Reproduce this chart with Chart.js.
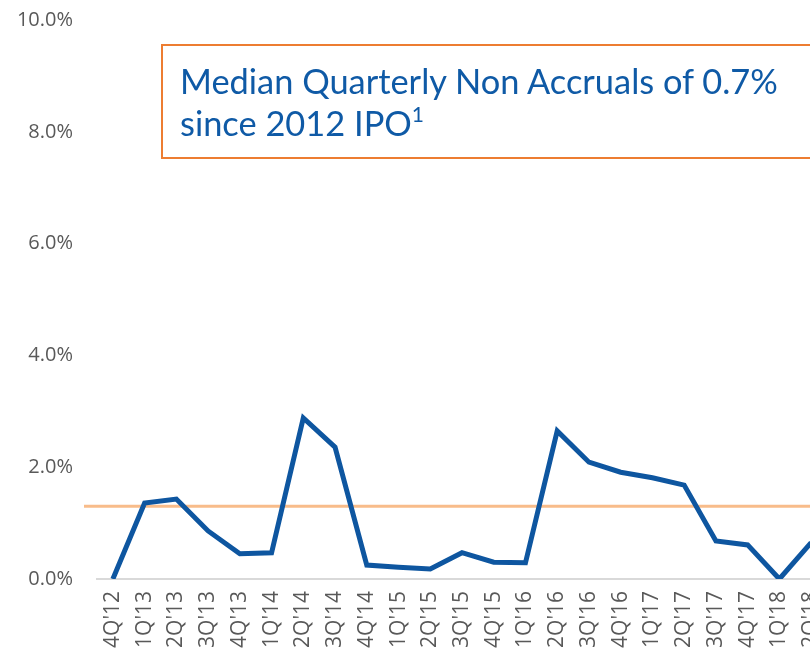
<!DOCTYPE html>
<html>
<head>
<meta charset="utf-8">
<script src="https://cdn.jsdelivr.net/npm/chart.js@4"></script>
<style>
  html, body { margin: 0; padding: 0; background: #fff; }
  .wrap { position: relative; width: 810px; height: 655px; overflow: hidden; }
  .wrap canvas { position: absolute; left: 0; top: 0; }
  .note {
    position: absolute; left: 161px; top: 44px; width: 700px; height: 115px;
    border: 2px solid #ED7D31; box-sizing: border-box;
    font-family: Lato, "Open Sans", sans-serif; font-size: 34.4px; color: #0F5AA6;
    line-height: 43px;
  }
  .note .l1 { position: absolute; left: 17px; top: 13px; white-space: nowrap; }
  .note .l2 { position: absolute; left: 17px; top: 55px; white-space: nowrap; }
  .note sup { font-size: 21px; vertical-align: 14px; line-height: 0; }
</style>
</head>
<body>
<div class="wrap">
  <canvas id="nonAccrualChart" width="827" height="700"></canvas>
  <div class="note">
    <div class="l1">Median Quarterly Non Accruals of 0.7%</div>
    <div class="l2">since 2012 IPO<sup>1</sup></div>
  </div>
</div>
<script>
// Quarters
const quarters = ["4Q'12", "1Q'13", "2Q'13", "3Q'13", "4Q'13", "1Q'14", "2Q'14", "3Q'14",
  "4Q'14", "1Q'15", "2Q'15", "3Q'15", "4Q'15", "1Q'16", "2Q'16", "3Q'16", "4Q'16",
  "1Q'17", "2Q'17", "3Q'17", "4Q'17", "1Q'18", "2Q'18"];

// Non accruals (% of portfolio)
const nonAccruals = [0.0, 1.36, 1.43, 0.86, 0.45, 0.47, 2.88, 2.36, 0.25, 0.21, 0.18,
  0.47, 0.30, 0.29, 2.65, 2.09, 1.91, 1.81, 1.68, 0.68, 0.61, 0.0, 0.65];

// Reference line value
const referenceLevel = [1.3];

// Y axis ticks
const yTicks = [0, 2, 4, 6, 8, 10];

// Horizontal reference line, drawn through the y scale
const refLinePlugin = {
  id: 'refLine',
  beforeDatasetsDraw(chart) {
    const ctx = chart.ctx;
    const y = chart.scales.y.getPixelForValue(referenceLevel[0]);
    ctx.save();
    ctx.strokeStyle = '#F8BC8A';
    ctx.lineWidth = 3;
    ctx.beginPath();
    ctx.moveTo(chart.chartArea.left - 13, y);
    ctx.lineTo(chart.width, y);
    ctx.stroke();
    ctx.restore();
  }
};

const ctx = document.getElementById('nonAccrualChart').getContext('2d');
new Chart(ctx, {
  type: 'line',
  data: {
    labels: quarters,
    datasets: [{
      data: nonAccruals,
      borderColor: '#0E56A0',
      borderWidth: 5,
      pointRadius: 0,
      tension: 0,
      fill: false
    }]
  },
  options: {
    responsive: false,
    animation: false,
    layout: { padding: { top: 20, right: 0, left: 0, bottom: 0 } },
    plugins: {
      legend: { display: false },
      tooltip: { enabled: false }
    },
    scales: {
      x: {
        offset: true,
        grid: { display: false },
        border: { display: true, color: '#D9D9D9', width: 2 },
        ticks: {
          autoSkip: false,
          minRotation: 90,
          maxRotation: 90,
          padding: 4,
          color: '#595959',
          font: { family: '"Open Sans", sans-serif', size: 21 }
        },
        afterFit(scale) {
          scale.height = 700 - 579;
          scale.paddingLeft = 0;
          scale.paddingRight = 0;
        }
      },
      y: {
        min: 0,
        max: 10,
        afterBuildTicks(scale) { scale.ticks = yTicks.map(v => ({ value: v })); },
        grid: { display: false },
        border: { display: false },
        ticks: {
          padding: 16,
          color: '#595959',
          font: { family: '"Open Sans", sans-serif', size: 20 },
          callback: v => v.toFixed(1) + '%'
        },
        afterFit(scale) {
          scale.width = 97;
          scale.paddingTop = 0;
          scale.paddingBottom = 0;
        }
      }
    }
  },
  plugins: [refLinePlugin]
});
</script>
</body>
</html>
